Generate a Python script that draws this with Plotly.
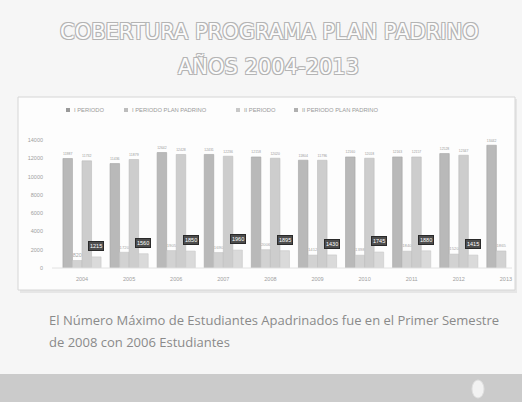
import plotly.graph_objects as go

years = ["2004", "2005", "2006", "2007", "2008", "2009", "2010", "2011", "2012", "2013"]
i_periodo = [11987, 11436, 12642, 12431, 12158, 11804, 12160, 12163, 12528, 13442]
i_plan_padrino = [820, 1720, 1905, 1690, 2006, 1412, 1398, 1840, 1520, 1865]
ii_periodo = [11732, 11879, 12428, 12236, 12020, 11796, 12018, 12157, 12347, None]
ii_plan_padrino = [1215, 1560, 1850, 1960, 1895, 1430, 1745, 1880, 1415, None]
series_names = ["I PERIODO", "I PERIODO PLAN PADRINO", "II PERIODO", "II PERIODO PLAN PADRINO"]
y_ticks = [0, 2000, 4000, 6000, 8000, 10000, 12000, 14000]

W, H = 522, 402
L, R, T, B = 52, 7, 131, 134
PW, PH = W - L - R, H - T - B


def px(x):
    return (x - L) / PW


def py(y):
    return (H - B - y) / PH


colors = ["#b9b9b9", "#d2d2d2", "#cdcdcd", "#dadada"]
lines = ["#a5a5a5", "#c2c2c2", "#bcbcbc", "#c8c8c8"]

fig = go.Figure()
data = [i_periodo, i_plan_padrino, ii_periodo, ii_plan_padrino]
txtcol = ["#9a9a9a", "#a8a8a8", "#9a9a9a", "#ffffff"]
for k, (name, vals) in enumerate(zip(series_names, data)):
    fig.add_trace(go.Bar(
        x=years, y=vals, name=name,
        marker=dict(color=colors[k], line=dict(color=lines[k], width=0.6)),
        text=[("" if v is None else str(v)) for v in vals] if k < 3 else None,
        textposition="outside",
        textfont=dict(size=5.5, color=txtcol[k], family="Liberation Sans"),
        cliponaxis=False,
        showlegend=False,
    ))

# dark value boxes for II PERIODO PLAN PADRINO
bar_w = (1 - 0.19) / 4
offs = [(-1.5 + k) * bar_w for k in range(4)]
for i, v in enumerate(ii_plan_padrino):
    if v is None:
        continue
    fig.add_annotation(x=i + offs[3], y=v, xref="x", yref="y", text=str(v),
                       showarrow=False, yshift=11,
                       font=dict(size=5.5, color="#ffffff", family="Liberation Sans"),
                       bgcolor="#4d4d4d", bordercolor="#2a2a2a", borderwidth=1, borderpad=1)

# slide panel
shapes = [
    dict(type="rect", xref="paper", yref="paper", x0=px(20), x1=px(517), y0=py(293), y1=py(99),
         fillcolor="#e6e6e6", line=dict(width=0), layer="below"),
    dict(type="rect", xref="paper", yref="paper", x0=px(18), x1=px(515), y0=py(290), y1=py(97),
         fillcolor="#fdfdfd", line=dict(color="#d6d6d6", width=1), layer="below"),
    dict(type="rect", xref="paper", yref="paper", x0=px(0), x1=px(522), y0=py(402), y1=py(374),
         fillcolor="#cbcbcb", line=dict(width=0), layer="below"),
    dict(type="circle", xref="paper", yref="paper", x0=px(472), x1=px(484), y0=py(398), y1=py(380),
         fillcolor="#f2f2f2", line=dict(color="#e0e0e0", width=1), layer="above"),
    dict(type="line", xref="paper", yref="paper", x0=px(52), x1=px(512), y0=py(268), y1=py(268),
         line=dict(color="#e2e2e2", width=1)),
]

# manual legend
leg_x = [66, 124, 236, 294]
for k, name in enumerate(series_names):
    shapes.append(dict(type="rect", xref="paper", yref="paper",
                       x0=px(leg_x[k]), x1=px(leg_x[k] + 4), y0=py(112), y1=py(108),
                       fillcolor=["#9a9a9a", "#bdbdbd", "#c8c8c8", "#b0b0b0"][k], line=dict(width=0)))
    fig.add_annotation(x=px(leg_x[k] + 6), y=py(110), xref="paper", yref="paper", text=name,
                       showarrow=False, xanchor="left", yanchor="middle",
                       font=dict(size=5.8, color="#9a9a9a", family="Liberation Sans"))

# titles
shadow = "-1px -1px 0 #b4b4b4, 1px -1px 0 #b4b4b4, -1px 1px 0 #b4b4b4, 1px 1px 0 #b4b4b4"
fig.add_annotation(x=px(269), y=py(18), xref="paper", yref="paper",
                   text="COBERTURA PROGRAMA PLAN PADRINO", showarrow=False,
                   font=dict(size=21, color="#fcfcfc", family="DejaVu Sans", shadow=shadow))
fig.add_annotation(x=px(268), y=py(51), xref="paper", yref="paper",
                   text="AÑOS 2004-2013", showarrow=False,
                   font=dict(size=21, color="#fcfcfc", family="DejaVu Sans", shadow=shadow))

# body text
fig.add_annotation(x=px(47), y=py(320), xref="paper", yref="paper",
                   text="El Número Máximo de Estudiantes Apadrinados fue en el Primer Semestre",
                   showarrow=False, xanchor="left", yanchor="middle",
                   font=dict(size=13, color="#8a8a8a", family="Open Sans"))
fig.add_annotation(x=px(47), y=py(342), xref="paper", yref="paper",
                   text="de 2008 con 2006 Estudiantes",
                   showarrow=False, xanchor="left", yanchor="middle",
                   font=dict(size=13, color="#8a8a8a", family="Open Sans"))

fig.update_layout(
    width=W, height=H,
    margin=dict(l=L, r=R, t=T, b=B, pad=0),
    paper_bgcolor="#f6f6f6", plot_bgcolor="rgba(0,0,0,0)",
    barmode="group", bargap=0.19, bargroupgap=0,
    shapes=shapes,
    showlegend=False,
    xaxis=dict(range=[-0.637, 9.193], showgrid=False, zeroline=False, showline=False,
               ticks="", tickfont=dict(size=5.5, color="#a0a0a0", family="Liberation Sans"),
               ticklabelstandoff=6),
    yaxis=dict(range=[0, 15000], tickvals=y_ticks, tickformat="d", showgrid=False, zeroline=False,
               showline=False, ticks="",
               tickfont=dict(size=5.5, color="#a0a0a0", family="Liberation Sans"),
               ticklabelstandoff=8),
)

fig.write_html("out.html")
